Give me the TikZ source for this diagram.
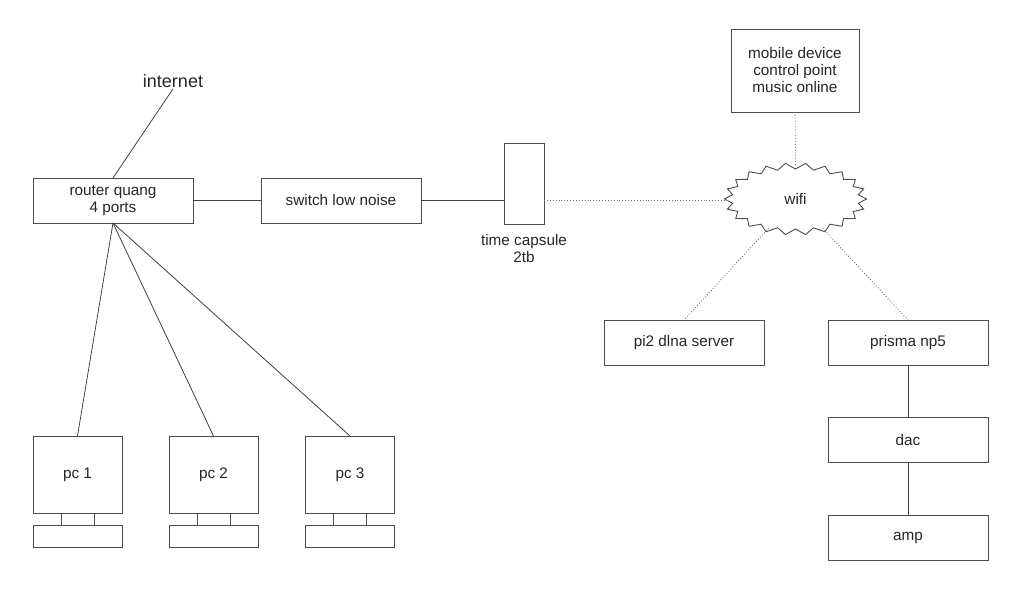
\documentclass[tikz,border=0pt]{standalone}
\usepackage{fontspec}
\setmainfont{Liberation Sans}
\usetikzlibrary{shapes.geometric}
\begin{document}
\begin{tikzpicture}[x=1pt,y=-1pt,
  every node/.style={font=\fontsize{15.3}{17}\selectfont, text=black!85},
  box/.style={draw=black!70, line width=0.9pt, rectangle, minimum width=160pt, minimum height=45pt, inner sep=0pt, outer sep=0pt, align=center},
  pcbox/.style={draw=black!70, line width=0.9pt, rectangle, minimum width=89pt, minimum height=77pt, inner sep=0pt, outer sep=0pt},
  wire/.style={draw=black!75, line width=0.8pt},
  air/.style={draw=black!55, line width=0.9pt, dotted},
  part/.style={draw=black!70, line width=0.9pt}]
\useasboundingbox (0,0) rectangle (1024,593);
% nodes
\node[font=\fontsize{18}{20}\selectfont, inner sep=1pt] (internet) at (173,81) {internet};
\node[box] (router) at (113,200.5) {router quang\\4 ports};
\node[box] (switch) at (341,200.5) {switch low noise};
\node[box, minimum width=40pt, minimum height=81pt] (tc) at (524,183.5) {};
\node[align=center, anchor=north] (tclabel) at (524,231) {time capsule\\2tb};
\node[ellipse, minimum width=134pt, minimum height=64pt, inner sep=0pt, outer sep=0pt] (wifi) at (795.5,199) {wifi};
\draw[part, line join=miter] plot[domain=0:43, samples=44, variable=\i]
  ({795.5+ifthenelse(mod(\i,2)==0,71,63.5)*cos(\i*360/44)}, {199+ifthenelse(mod(\i,2)==0,36,30)*sin(\i*360/44)}) -- cycle;
\node[box, minimum width=128pt, minimum height=83pt] (mobile) at (795,70.5) {mobile device\\control point\\music online};
\node[box] (pi) at (684,342.5) {pi2 dlna server};
\node[box] (prisma) at (908,342.5) {prisma np5};
\node[box] (dac) at (908,440) {dac};
\node[box] (amp) at (908,537.5) {amp};
\node[pcbox] (pc1) at (77.5,474.5) {pc 1};
\node[pcbox] (pc2) at (213.5,474.5) {pc 2};
\node[pcbox] (pc3) at (350,474.5) {pc 3};
\foreach \p in {pc1,pc2,pc3}{
  \draw[part] ([xshift=-16.5pt]\p.south) rectangle ([xshift=16.5pt,yshift=-12pt]\p.south);
  \draw[part] ([yshift=-12pt]\p.south west) rectangle ([yshift=-34pt]\p.south east);
}
% connectors
\draw[wire] (router.north) -- (internet.south);
\draw[wire] (router) -- (switch);
\draw[wire] (switch.east) -- (switch.east -| tc.west);
\draw[air] (tc.east |- switch.east) -- (switch.east -| wifi.west);
\draw[air] (mobile) -- (wifi);
\draw[air] (wifi) -- (pi.north);
\draw[air] (wifi) -- (prisma.north);
\draw[wire] (prisma) -- (dac);
\draw[wire] (dac) -- (amp);
\draw[wire] (router.south) -- (pc1.north);
\draw[wire] (router.south) -- (pc2.north);
\draw[wire] (router.south) -- (pc3.north);
\end{tikzpicture}
\end{document}
